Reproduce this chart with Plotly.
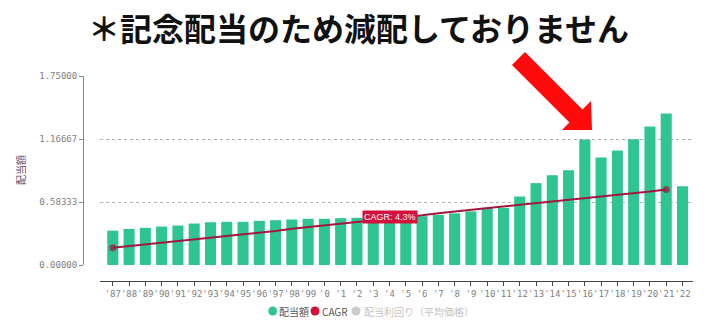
import plotly.graph_objects as go

years = ["'87","'88","'89","'90","'91","'92","'93","'94","'95","'96","'97","'98","'99",
         "'0","'1","'2","'3","'4","'5","'6","'7","'8","'9","'10","'11","'12","'13","'14",
         "'15","'16","'17","'18","'19","'20","'21","'22"]
dividends = [0.318,0.334,0.344,0.356,0.365,0.384,0.396,0.400,0.400,0.409,0.415,0.421,0.428,
             0.428,0.434,0.437,0.445,0.445,0.448,0.452,0.465,0.478,0.496,0.530,0.530,0.634,
             0.758,0.830,0.877,1.161,0.995,1.061,1.164,1.283,1.402,0.730]
cagr_years = years[:35]
cagr_values = [0.160,0.175,0.190,0.205,0.220,0.240,0.255,0.270,0.285,0.300,0.315,0.335,0.350,
               0.365,0.380,0.395,0.410,0.430,0.445,0.460,0.480,0.495,0.510,0.530,0.540,0.555,
               0.570,0.585,0.600,0.615,0.630,0.650,0.665,0.680,0.700]
y_ticks = [0, 0.58333, 1.16667, 1.75]
y_tick_text = ["0.00000", "0.58333", "1.16667", "1.75000"]
cagr_label = "CAGR: 4.3%"
cagr_label_year = "'4"
title_text = "＊記念配当のため減配しておりません"
legend_names = ["配当額", "CAGR", "配当利回り（平均価格）"]

W, H = 720, 336
ML, MR, MT, MB = 83, 27, 76, 55
PW, PH = W - ML - MR, H - MT - MB

def px(x):
    return (x - ML) / PW

def py(y):
    return (H - MB - y) / PH

fig = go.Figure()
fig.add_trace(go.Bar(x=years, y=dividends, marker_color="#2ec592", marker_line_width=0,
                     showlegend=False, name=legend_names[0]))
sizes = [7 if i in (0, len(cagr_values) - 1) else 0 for i in range(len(cagr_values))]
fig.add_trace(go.Scatter(x=cagr_years, y=cagr_values, mode="lines+markers",
                         line=dict(color="#a3173f", width=2),
                         marker=dict(size=sizes, color="#a3173f", line=dict(width=0)),
                         showlegend=False, name=legend_names[1]))

fig.add_annotation(x=cagr_label_year, y=0.445, xref="x", yref="y", text=cagr_label,
                   showarrow=False, bgcolor="#d3103c", borderpad=1,
                   font=dict(family="Liberation Sans, Arial", size=9, color="white"))

# title
fig.add_annotation(x=px(358), y=py(27), xref="paper", yref="paper", text=title_text,
                   showarrow=False, xanchor="center", yanchor="middle",
                   font=dict(family="Noto Sans CJK JP", size=32, color="#111", weight="bold"))

# y-axis title
fig.add_annotation(x=px(20), y=py(170), xref="paper", yref="paper", text="配当額",
                   showarrow=False, textangle=-90, xanchor="center", yanchor="middle",
                   font=dict(family="Noto Sans CJK JP", size=10, color="#5e4c6e"))

# red arrow
pts = [(525, 52), (582.5, 109.5), (591, 101), (592, 130), (562, 130), (569.5, 122.5), (512, 65)]
path = "M " + " L ".join(f"{px(x):.5f},{py(y):.5f}" for x, y in pts) + " Z"
fig.add_shape(type="path", path=path, xref="paper", yref="paper",
              fillcolor="#fe0a0a", line=dict(width=0))

# legend
leg = [(272.7, "#2ec592", 277, legend_names[0], "#555"),
       (315, "#d3103c", 320, legend_names[1], "#555"),
       (356, "#cccccc", 362, legend_names[2], "#c4c4c4")]
cy = 311
r = 4.5
for cx, col, tx, name, tcol in leg:
    fig.add_shape(type="circle", xref="paper", yref="paper",
                  x0=px(cx - r), x1=px(cx + r), y0=py(cy + r), y1=py(cy - r),
                  fillcolor=col, line=dict(width=0))
    fig.add_annotation(x=px(tx), y=py(cy), xref="paper", yref="paper", text=name,
                       showarrow=False, xanchor="left", yanchor="middle",
                       font=dict(family="Noto Sans CJK JP", size=10, color=tcol))

tickfont = dict(family="DejaVu Sans Mono", size=9, color="#808080")
fig.update_layout(
    width=W, height=H, margin=dict(l=ML, r=MR, t=MT, b=MB),
    paper_bgcolor="white", plot_bgcolor="white", bargap=0.32, showlegend=False,
    xaxis=dict(domain=[px(100), 1], anchor="free", position=0,
               range=[-0.786, 35.645], showgrid=False, showline=True,
               linecolor="#444", linewidth=1, ticks="outside", ticklen=4,
               tickcolor="#444", tickfont=tickfont, tickangle=0, tickmode="array",
               tickvals=years, ticktext=years),
    yaxis=dict(domain=[py(265), 1], anchor="free", position=0, range=[0, 1.75],
               tickvals=y_ticks, ticktext=y_tick_text, showgrid=True,
               gridcolor="#b0b0b0", griddash="dot", gridwidth=1, zeroline=False,
               showline=True, linecolor="#888", linewidth=1, ticks="outside",
               ticklen=4, tickcolor="#888", tickfont=tickfont),
)

fig.write_html("out.html")
